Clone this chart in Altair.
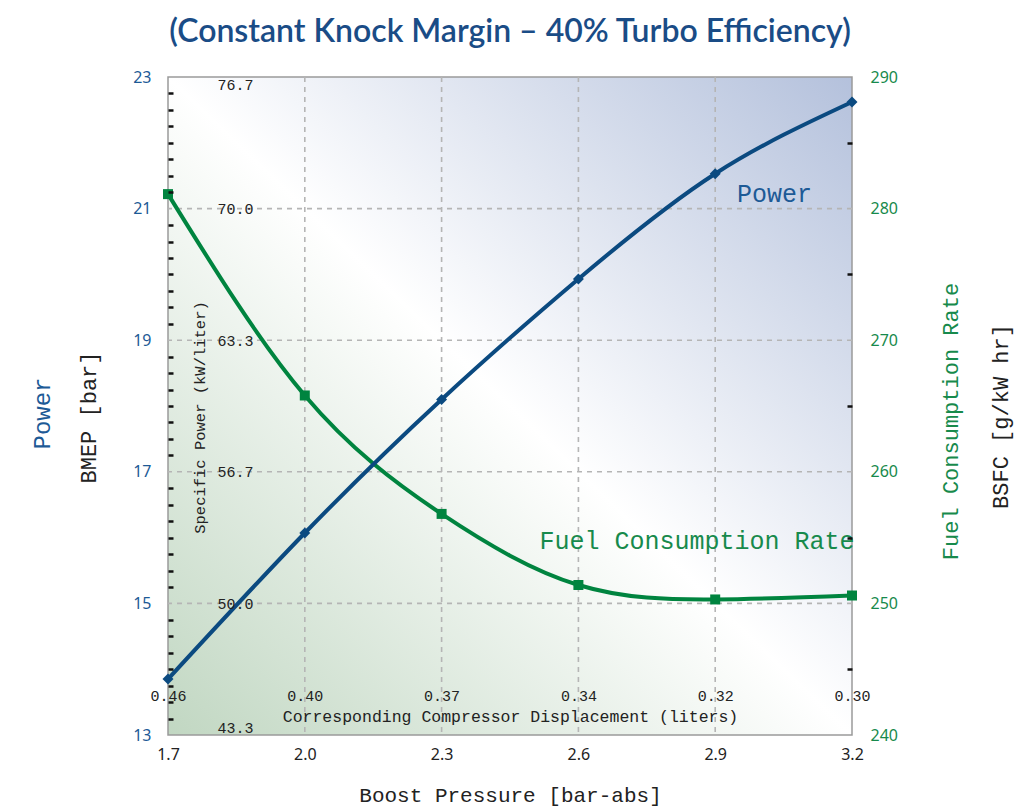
import altair as alt
import pandas as pd

# ---------------- data ----------------
boost = [1.7, 2.0, 2.3, 2.6, 2.9, 3.2]
bmep = [13.85, 16.07, 18.10, 19.93, 21.53, 22.62]
bsfc = [281.1, 265.8, 256.8, 251.4, 250.3, 250.6]
disp_labels = ["0.46", "0.40", "0.37", "0.34", "0.32", "0.30"]
bmep_ticks = [13, 15, 17, 19, 21, 23]
sp_labels = ["43.3", "50.0", "56.7", "63.3", "70.0", "76.7"]
bsfc_ticks = [240, 250, 260, 270, 280, 290]
bsfc_minor = [245, 255, 265, 275, 285]
bmep_minor = [13 + 0.25 * i for i in range(41) if (13 + 0.25 * i) not in bmep_ticks]
grid_x = [2.0, 2.3, 2.6, 2.9]
grid_y = [15, 17, 19, 21]
power_label = {"boost": [3.03], "bmep": [21.22], "text": ["Power"]}
fuel_label = {"boost": [2.86], "bsfc": [254.75], "text": ["Fuel Consumption Rate"]}

W, H = 684, 658
BLUE_T = "#1d5a96"
BLUE_L = "#0b4a80"
GREEN_T = "#178a4c"
GREEN_L = "#00843f"
DARK = "#222222"
MONO = "Liberation Mono"
SANS = "Noto Sans"

df = pd.DataFrame({"boost": boost, "bmep": bmep, "bsfc": bsfc})
xs = alt.Scale(domain=[1.7, 3.2], nice=False, zero=False)
yl = alt.Scale(domain=[13, 23], nice=False, zero=False)
yr = alt.Scale(domain=[240, 290], nice=False, zero=False)

def no_axis_x():
    return alt.X("boost:Q", scale=xs, axis=None)

# ---------------- axes ----------------
main_x = alt.Axis(orient="bottom", values=boost, format=".1f", labelFont=SANS, labelFontSize=16,
                  labelColor=DARK, labelPadding=11, labelFlush=False, ticks=False, domain=False,
                  grid=False, title="Boost Pressure [bar-abs]", titleFont=MONO, titleFontSize=21,
                  titleFontWeight="normal", titleColor=DARK, titleY=60, titleBaseline="middle")
disp_expr = f"{disp_labels}[indexof({boost}, datum.value)]"
disp_x = alt.Axis(orient="bottom", offset=-50, values=boost, labelExpr=disp_expr, labelFont=MONO,
                  labelFontSize=15, labelColor=DARK, labelPadding=3, labelFlush=False,
                  ticks=False, tickSize=0, domain=False, grid=False, zindex=2,
                  title="Corresponding Compressor Displacement (liters)",
                  titleFont=MONO, titleFontSize=16.5, titleFontWeight="normal", titleColor=DARK,
                  titleY=31, titleBaseline="middle")
main_y = alt.Axis(orient="left", values=bmep_ticks, format="d", labelFont=SANS, labelFontSize=16,
                  labelColor=BLUE_T, labelPadding=17, ticks=False, tickSize=0, domain=False,
                  grid=False, title="BMEP [bar]", titleFont=MONO, titleFontSize=22,
                  titleFontWeight="normal", titleColor=DARK, titleAngle=270, titleX=-80,
                  titleY=340, titleBaseline="middle")
power_y = alt.Axis(orient="left", labels=False, ticks=False, domain=False, grid=False,
                   title="Power", titleFont=MONO, titleFontSize=24, titleFontWeight="normal",
                   titleColor=BLUE_T, titleAngle=270, titleX=-126, titleY=336,
                   titleBaseline="middle")
sp_expr = f"{sp_labels}[indexof({bmep_ticks}, datum.value)]"
sp_y = alt.Axis(orient="left", offset=-88, values=bmep_ticks, labelExpr=sp_expr, labelFont=MONO,
                labelFontSize=15, labelColor=DARK, labelPadding=3, ticks=False, tickSize=0,
                domain=False, grid=False, labelFlush=True, zindex=2,
                title="Specific Power (kW/liter)",
                titleFont=MONO, titleFontSize=15.5, titleFontWeight="normal", titleColor=DARK,
                titleAngle=270, titleX=-57, titleY=340, titleBaseline="middle")
minor_l = alt.Axis(orient="right", offset=-W, values=bmep_minor, labels=False, ticks=True,
                   tickSize=5, tickWidth=2.5, tickColor="#111111", domain=False, grid=False,
                   zindex=2, title="")
main_r = alt.Axis(orient="right", values=bsfc_ticks, format="d", labelFont=SANS, labelFontSize=16,
                  labelColor=GREEN_T, labelPadding=18, ticks=False, tickSize=0, domain=False,
                  grid=False, title="BSFC [g/kW hr]", titleFont=MONO, titleFontSize=22,
                  titleFontWeight="normal", titleColor=DARK, titleAngle=270, titleX=148,
                  titleY=339, titleBaseline="middle")
fcr_r = alt.Axis(orient="right", labels=False, ticks=False, domain=False, grid=False,
                 title="Fuel Consumption Rate", titleFont=MONO, titleFontSize=22,
                 titleFontWeight="normal", titleColor=GREEN_T, titleAngle=270, titleX=98,
                 titleY=344, titleBaseline="middle")
minor_r = alt.Axis(orient="left", offset=-W, values=bsfc_minor, labels=False, ticks=True,
                   tickSize=5, tickWidth=2.5, tickColor="#111111", domain=False, grid=False,
                   zindex=2, title="")

# ---------------- layers ----------------
grad = alt.LinearGradient(
    gradient="linear",
    stops=[alt.GradientStop(offset=0, color="#c1d7c2"),
           alt.GradientStop(offset=0.5, color="#ffffff"),
           alt.GradientStop(offset=1, color="#b4c1dc")],
    x1=0, y1=1, x2=1, y2=0)

bg = alt.Chart(pd.DataFrame({"a": [0]})).mark_rect(
    fill=grad, stroke="#9a9a9a", strokeWidth=1.5
).encode(x=alt.value(0), x2=alt.value(W), y=alt.value(0), y2=alt.value(H))

vgrid = alt.Chart(pd.DataFrame({"boost": grid_x})).mark_rule(
    color="#b5b5b5", strokeWidth=1.6, strokeDash=[5, 5]
).encode(x=no_axis_x())

hgrid = alt.Chart(pd.DataFrame({"bmep": grid_y})).mark_rule(
    color="#b5b5b5", strokeWidth=1.6, strokeDash=[5, 5]
).encode(y=alt.Y("bmep:Q", scale=yl, axis=minor_l))

fuel_line = alt.Chart(df).mark_line(color=GREEN_L, strokeWidth=4, interpolate="natural").encode(
    x=no_axis_x(), y=alt.Y("bsfc:Q", scale=yr, axis=main_r))
fuel_pts = alt.Chart(df).mark_point(shape="square", filled=True, size=100, color=GREEN_L, opacity=1).encode(
    x=no_axis_x(), y=alt.Y("bsfc:Q", scale=yr, axis=fcr_r))
fuel_txt = alt.Chart(pd.DataFrame(fuel_label)).mark_text(
    font=MONO, fontSize=25, color=GREEN_T, align="center", baseline="middle"
).encode(x=no_axis_x(), y=alt.Y("bsfc:Q", scale=yr, axis=minor_r), text="text:N")

power_line = alt.Chart(df).mark_line(color=BLUE_L, strokeWidth=4, interpolate="natural").encode(
    x=alt.X("boost:Q", scale=xs, axis=main_x), y=alt.Y("bmep:Q", scale=yl, axis=main_y))
power_pts = alt.Chart(df).mark_point(shape="diamond", filled=True, size=120, color=BLUE_L, opacity=1).encode(
    x=alt.X("boost:Q", scale=xs, axis=disp_x), y=alt.Y("bmep:Q", scale=yl, axis=power_y))
power_txt = alt.Chart(pd.DataFrame(power_label)).mark_text(
    font=MONO, fontSize=25, color=BLUE_T, align="center", baseline="middle"
).encode(x=no_axis_x(), y=alt.Y("bmep:Q", scale=yl, axis=sp_y), text="text:N")

chart = alt.layer(
    bg, vgrid, hgrid, fuel_line, fuel_pts, fuel_txt, power_line, power_pts, power_txt
).resolve_scale(x="independent", y="independent").properties(
    width=W, height=H,
    autosize=alt.AutoSizeParams(type="none"),
    padding={"left": 160, "top": 69, "right": 172, "bottom": 75},
    title=alt.TitleParams(
        "(Constant Knock Margin \u2013 40% Turbo Efficiency)",
        font="Lato", fontSize=32, fontWeight=600, color="#1a4c86",
        anchor="middle", frame="group", offset=20),
).configure_view(stroke=None)

chart.save("out.html", embed_options={"renderer": "svg", "actions": False})
